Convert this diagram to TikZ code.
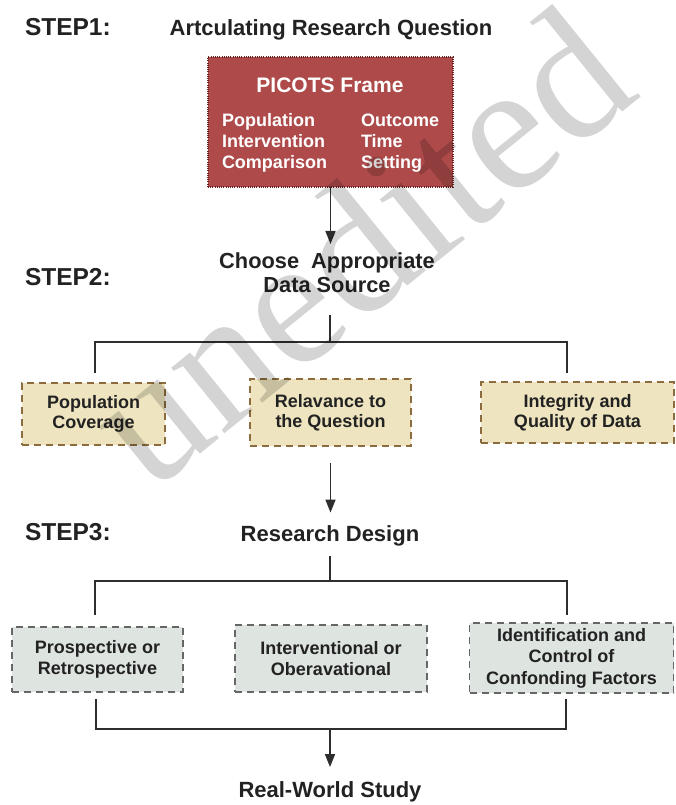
\documentclass[tikz,border=0pt]{standalone}
\usepackage{fontspec}
\setmainfont{Liberation Sans}
\newfontfamily\wmfont{Liberation Serif}
\usetikzlibrary{arrows.meta}
\definecolor{txt}{HTML}{222222}
\definecolor{lnc}{HTML}{2E2E2E}
\definecolor{redfill}{HTML}{AE4A4A}
\definecolor{redline}{HTML}{6E1F1F}
\definecolor{tanfill}{HTML}{EEE5C0}
\definecolor{tanline}{HTML}{8C6C3E}
\definecolor{greyfill}{HTML}{DEE4E0}
\definecolor{greyline}{HTML}{666666}
\begin{document}
\begin{tikzpicture}[x=1pt,y=-1pt,
  every node/.style={text=txt, inner sep=0pt, outer sep=0pt},
  steplbl/.style={anchor=base west, font=\fontsize{24.5}{28}\selectfont\bfseries},
  heading/.style={anchor=base, font=\fontsize{22}{26}\selectfont\bfseries},
  picotsbox/.style={draw=redline, fill=redfill, line width=1.8pt, dash pattern=on 1pt off 1.2pt},
  picotstitle/.style={anchor=base, text=white, font=\fontsize{21}{24}\selectfont\bfseries},
  picotsitem/.style={anchor=base west, text=white, font=\fontsize{18}{20}\selectfont\bfseries},
  tanbox/.style={draw=tanline, fill=tanfill, line width=1.8pt, dash pattern=on 7pt off 5pt,
    align=center, font=\fontsize{18}{20}\selectfont\bfseries},
  greybox/.style={draw=greyline, fill=greyfill, line width=1.8pt, dash pattern=on 7pt off 5pt,
    align=center, font=\fontsize{18}{21.5}\selectfont\bfseries},
  ln/.style={draw=lnc, line width=1.6pt},
  arr/.style={ln, -{Triangle[length=13pt,width=10pt]}},
  watermark/.style={text=black, opacity=0.17, font=\wmfont\fontsize{184}{184}\selectfont}
]
\fill[white] (0,0) rectangle (676,805);
\useasboundingbox (0,0) rectangle (676,805);

% step labels
\node[steplbl] (s1) at (25,35.7) {STEP1:};
\node[steplbl] (s2) at (25,285.7) {STEP2:};
\node[steplbl] (s3) at (25,540) {STEP3:};

% step 1
\node[heading] (q1) at (331,35.5) {Artculating Research Question};
\node[picotsbox, minimum width=245pt, minimum height=129.5pt] (pic) at (330.5,122) {};
\node[picotstitle] (pt) at (330,93) {PICOTS Frame};
\node[picotsitem] (p1) at (222,127) {Population};
\node[picotsitem] (p2) at (222,147.5) {Intervention};
\node[picotsitem] (p3) at (222,168) {Comparison};
\node[picotsitem] (p4) at (361,127) {Outcome};
\node[picotsitem] (p5) at (361,147.5) {Time};
\node[picotsitem] (p6) at (361,168) {Setting};

% step 2
\node[align=center, font=\fontsize{21.8}{24}\selectfont\bfseries] (ch) at (327,273)
  {Choose\ \ Appropriate\\Data Source};
\draw[arr, shorten >=9pt] (pic.south) -- (pic.south |- ch.north);

\coordinate (j2) at (330,342);
\coordinate (b2l) at (95,373);
\coordinate (b2r) at (567,373);
\draw[ln, shorten <=22pt] (ch.south -| j2) -- (j2);
\draw[ln] (b2l) |- (j2) -| (b2r);

\node[tanbox, minimum width=143pt, minimum height=62pt] (pc) at (93.5,414) {Population\\Coverage};
\node[tanbox, minimum width=161pt, minimum height=67pt] (rq) at (330.5,412.5) {Relavance to\\the Question};
\node[tanbox, minimum width=193pt, minimum height=61pt] (iq) at (577.5,412.5) {Integrity and\\Quality of Data};

% step 3
\node[heading] (rd) at (330,541.5) {Research Design};
\draw[arr, shorten <=17pt, shorten >=13pt] (rq.south) -- (rq.south |- rd.north);

\coordinate (j3) at (330,581);
\coordinate (b3l) at (95,615);
\coordinate (b3r) at (567,615);
\draw[ln, shorten <=10pt] (rd.south -| j3) -- (j3);
\draw[ln] (b3l) |- (j3) -| (b3r);

\node[greybox, minimum width=171pt, minimum height=65pt] (ps) at (97.5,659.5) {Prospective or\\Retrospective};
\node[greybox, minimum width=192pt, minimum height=67pt] (io) at (331,658.5) {Interventional or\\Oberavational};
\node[greybox, minimum width=204pt, minimum height=70pt] (ic) at (571.5,658) {Identification and\\Control of\\Confonding Factors};

% final
\coordinate (c5l) at (96,699);
\coordinate (c5r) at (566,699);
\coordinate (j5) at (330,729);
\draw[ln] (c5l) |- (j5) -| (c5r);
\node[heading] (rw) at (330,797) {Real-World Study};
\draw[arr, shorten >=14pt] (j5) -- (rw.north);

% watermark
\node[watermark, rotate=39] (wm) at (357,246) {unedited};
\end{tikzpicture}
\end{document}
